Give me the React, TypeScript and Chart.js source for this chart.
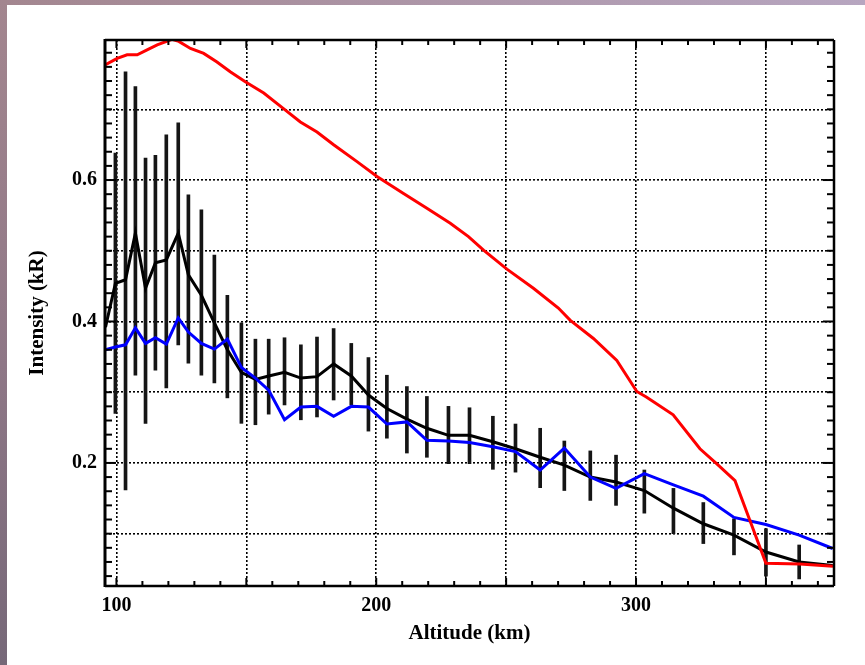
import React, { useEffect, useRef } from 'react';
import { Chart, registerables } from 'chart.js';

Chart.register(...registerables);

// Altitude (km) of the observed / model profile points
const altitude = [
  95.8, 99.6, 103.5, 107.3, 111.2, 115.0, 119.2, 123.8, 127.7, 132.7,
  137.7, 142.7, 148.1, 153.5, 158.6, 164.7, 171.0, 177.2, 183.6, 190.4,
  197.0, 204.1, 211.8, 219.5, 227.8, 235.9, 244.9, 253.6, 263.1, 272.4,
  282.4, 292.3, 303.2, 314.4, 325.9, 337.7, 350.0, 362.8, 375.7,
];
// Black profile (kR)
const observed = [
  0.392, 0.454, 0.459, 0.525, 0.447, 0.483, 0.487, 0.525, 0.466, 0.437,
  0.398, 0.360, 0.328, 0.318, 0.323, 0.328, 0.320, 0.322, 0.340, 0.323,
  0.296, 0.277, 0.262, 0.249, 0.239, 0.239, 0.230, 0.220, 0.208, 0.197,
  0.180, 0.173, 0.161, 0.136, 0.114, 0.098, 0.074, 0.060, 0.055,
];
// Error bar bounds of the black profile
const errLow = [
  null, 0.270, 0.162, 0.324, 0.256, 0.331, 0.306, 0.367, 0.341, 0.324,
  0.313, 0.292, 0.256, 0.254, 0.269, 0.282, 0.261, 0.265, 0.289, 0.282,
  0.245, 0.235, 0.214, 0.208, 0.199, 0.199, 0.191, 0.187, 0.165, 0.161,
  0.147, 0.140, 0.129, 0.100, 0.086, 0.070, 0.040, 0.036, null,
];
const errHigh = [
  null, 0.638, 0.753, 0.732, 0.631, 0.635, 0.664, 0.681, 0.579, 0.558,
  0.494, 0.437, 0.398, 0.375, 0.375, 0.377, 0.367, 0.378, 0.390, 0.369,
  0.349, 0.324, 0.308, 0.294, 0.280, 0.278, 0.266, 0.255, 0.249, 0.231,
  0.217, 0.211, 0.190, 0.164, 0.144, 0.121, 0.107, 0.084, null,
];
// Blue profile (kR)
const blueProfile = [
  0.360, 0.364, 0.367, 0.391, 0.369, 0.377, 0.368, 0.405, 0.385, 0.369,
  0.361, 0.375, 0.335, 0.320, 0.303, 0.261, 0.279, 0.280, 0.266, 0.280,
  0.279, 0.255, 0.258, 0.232, 0.231, 0.229, 0.223, 0.216, 0.190, 0.221,
  0.180, 0.164, 0.185, 0.169, 0.153, 0.123, 0.113, 0.098, 0.079,
];
// Red profile
const redAltitude = [
  95.8, 100.3, 104.1, 108.0, 111.8, 115.7, 121.4, 124.0, 128.5, 133.6,
  138.7, 143.8, 149.6, 156.7, 164.3, 170.8, 177.2, 183.6, 192.6, 200.3,
  210.5, 219.5, 228.5, 235.5, 241.3, 250.3, 260.5, 270.1, 274.6, 283.6,
  292.6, 300.3, 304.1, 314.3, 324.6, 331.0, 338.1, 343.8, 350.0, 363.1, 375.8,
];
const redProfile = [
  0.763, 0.772, 0.777, 0.777, 0.784, 0.791, 0.799, 0.796, 0.786, 0.779,
  0.767, 0.753, 0.739, 0.723, 0.701, 0.682, 0.668, 0.650, 0.626, 0.605,
  0.581, 0.560, 0.539, 0.520, 0.501, 0.474, 0.447, 0.419, 0.402, 0.376,
  0.345, 0.301, 0.293, 0.268, 0.220, 0.199, 0.175, 0.119, 0.058, 0.057, 0.054,
];

const xGridValues = [100, 150, 200, 250, 300, 350];
const xTickLabels = ['100', '', '200', '', '300', ''];
const yGridValues = [0.1, 0.2, 0.3, 0.4, 0.5, 0.6, 0.7];
const yTickLabels = ['', '0.2', '', '0.4', '', '0.6', ''];

const X_MIN = 95.6;
const X_MAX = 376.2;
const Y_MIN = 0.026;
const Y_MAX = 0.798;

const framePlugin = {
  id: 'frameTicks',
  afterDatasetsDraw(chart: any) {
    const { ctx, chartArea: a, scales } = chart;
    const x = scales.x;
    const y = scales.y;
    ctx.save();
    ctx.strokeStyle = '#000';
    ctx.lineWidth = 2;
    ctx.setLineDash([]);
    const seg = (x1: number, y1: number, x2: number, y2: number) => {
      ctx.beginPath();
      ctx.moveTo(x1, y1);
      ctx.lineTo(x2, y2);
      ctx.stroke();
    };
    for (let i = 10; i <= 37; i++) {
      const v = i * 10;
      const px = x.getPixelForValue(v);
      const len = v % 50 === 0 ? 8 : 5;
      seg(px, a.bottom, px, a.bottom - len);
      seg(px, a.top, px, a.top + len);
    }
    for (let i = 2; i <= 39; i++) {
      const v = i * 0.02;
      const py = y.getPixelForValue(v);
      const len = i % 10 === 0 ? 11 : 7;
      seg(a.left, py, a.left + len, py);
      seg(a.right, py, a.right - len, py);
    }
    ctx.lineWidth = 2.5;
    seg(a.left, a.top, a.right, a.top);
    seg(a.right, a.top, a.right, a.bottom);
    seg(a.left, a.bottom, a.right, a.bottom);
    ctx.lineWidth = 3;
    seg(a.left, a.top - 1, a.left, a.bottom + 1);
    ctx.restore();
  },
};

export default function App() {
  const canvasRef = useRef<HTMLCanvasElement | null>(null);

  useEffect(() => {
    const canvas = canvasRef.current;
    if (!canvas) return;

    const errorBars = altitude
      .map((a, i) => (errLow[i] == null ? null : { x: a, y: [errLow[i], errHigh[i]] }))
      .filter((d) => d !== null);

    const chart = new Chart(canvas, {
      type: 'line',
      data: {
        datasets: [
          {
            type: 'bar',
            data: errorBars as any,
            backgroundColor: '#151515',
            borderWidth: 0,
            barThickness: 3,
            grouped: false,
            order: 4,
          } as any,
          {
            type: 'line',
            data: altitude.map((a, i) => ({ x: a, y: observed[i] })),
            borderColor: '#000000',
            borderWidth: 3,
            pointRadius: 0,
            tension: 0,
            order: 3,
          },
          {
            type: 'line',
            data: altitude.map((a, i) => ({ x: a, y: blueProfile[i] })),
            borderColor: '#0000ff',
            borderWidth: 3,
            pointRadius: 0,
            tension: 0,
            order: 2,
          },
          {
            type: 'line',
            data: redAltitude.map((a, i) => ({ x: a, y: redProfile[i] })),
            borderColor: '#ff0000',
            borderWidth: 3,
            pointRadius: 0,
            tension: 0,
            order: 1,
          },
        ],
      },
      options: {
        animation: false,
        responsive: false,
        maintainAspectRatio: false,
        events: [],
        layout: { padding: { left: 0, top: 40, right: 31, bottom: 0 } },
        plugins: { legend: { display: false }, tooltip: { enabled: false } },
        scales: {
          x: {
            type: 'linear',
            min: X_MIN,
            max: X_MAX,
            offset: false,
            afterBuildTicks: (scale: any) => {
              scale.ticks = xGridValues.map((v) => ({ value: v }));
            },
            afterFit: (scale: any) => {
              scale.height = 79;
            },
            ticks: {
              autoSkip: false,
              maxRotation: 0,
              padding: 8,
              color: '#000',
              font: { family: '"Liberation Serif", "Times New Roman", serif', size: 20, weight: 'bold' },
              callback: (value: any) => {
                const idx = xGridValues.indexOf(Number(value));
                return idx >= 0 ? xTickLabels[idx] : '';
              },
            },
            grid: {
              color: '#000',
              lineWidth: 1.6,
              drawTicks: false,
              offset: false,
            },
            border: { display: false, dash: [2, 2] },
            title: {
              display: true,
              text: 'Altitude (km)',
              color: '#000',
              font: { family: '"Liberation Serif", "Times New Roman", serif', size: 21, weight: 'bold' },
              padding: { top: 0, bottom: 19 },
            },
          },
          y: {
            type: 'linear',
            min: Y_MIN,
            max: Y_MAX,
            afterBuildTicks: (scale: any) => {
              scale.ticks = yGridValues.map((v) => ({ value: v }));
            },
            afterFit: (scale: any) => {
              scale.width = 105;
            },
            ticks: {
              autoSkip: false,
              padding: 8,
              color: '#000',
              font: { family: '"Liberation Serif", "Times New Roman", serif', size: 20, weight: 'bold' },
              callback: (value: any) => {
                const idx = yGridValues.findIndex((v) => Math.abs(v - Number(value)) < 1e-6);
                return idx >= 0 ? yTickLabels[idx] : '';
              },
            },
            grid: {
              color: '#000',
              lineWidth: 1.6,
              drawTicks: false,
              offset: false,
            },
            border: { display: false, dash: [2, 2] },
            title: {
              display: true,
              text: 'Intensity (kR)',
              color: '#000',
              font: { family: '"Liberation Serif", "Times New Roman", serif', size: 21, weight: 'bold' },
              padding: { top: 25, bottom: 0 },
            },
          },
        },
      } as any,
      plugins: [framePlugin],
    });

    return () => chart.destroy();
  }, []);

  return (
    <div
      style={{
        position: 'absolute',
        left: 0,
        top: 0,
        width: 865,
        height: 665,
        background: '#ffffff',
        overflow: 'hidden',
      }}
    >
      <div
        style={{
          position: 'absolute',
          left: 0,
          top: 0,
          width: 865,
          height: 5,
          background: 'linear-gradient(to right, #a3868f, #ad96a8 50%, #b7a6c0)',
        }}
      />
      <div
        style={{
          position: 'absolute',
          left: 0,
          top: 0,
          width: 7,
          height: 665,
          background: 'linear-gradient(to bottom, #a3868f, #8e7786 55%, #766878)',
        }}
      />
      <canvas
        ref={canvasRef}
        width={865}
        height={665}
        style={{ position: 'absolute', left: 0, top: 0, width: 865, height: 665 }}
      />
    </div>
  );
}
